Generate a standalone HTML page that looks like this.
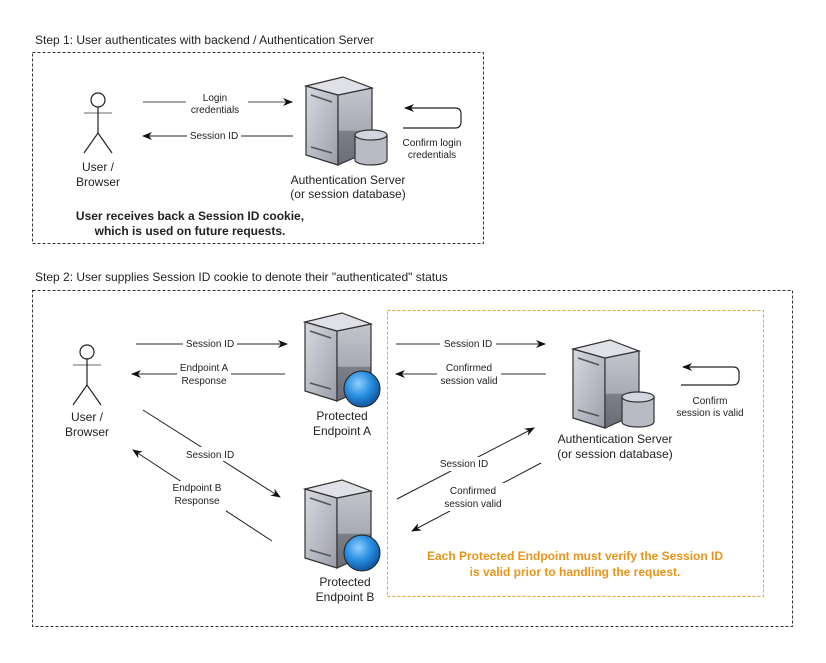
<!DOCTYPE html>
<html><head><style>
html,body{margin:0;padding:0;background:#fff;}
svg{display:block;}
text{font-family:"Liberation Sans",sans-serif;font-size:11px;fill:#222;}
.s{font-size:10px;}
.m{font-size:12px;}
.b{font-weight:bold;font-size:12px;}
</style></head><body>
<svg width="826" height="663" viewBox="0 0 826 663" xmlns="http://www.w3.org/2000/svg">
<defs>
<linearGradient id="fr" x1="0" y1="0" x2="1" y2="1"><stop offset="0" stop-color="#d8d9e0"/><stop offset="0.6" stop-color="#b4b6c0"/><stop offset="1" stop-color="#9a9ca8"/></linearGradient>
<linearGradient id="sd" x1="0" y1="0" x2="0" y2="1"><stop offset="0" stop-color="#c4c6ce"/><stop offset="0.55" stop-color="#a8aab4"/><stop offset="0.56" stop-color="#7c7e88"/><stop offset="1" stop-color="#6a6c76"/></linearGradient>
<radialGradient id="gl" cx="0.4" cy="0.35" r="0.7"><stop offset="0" stop-color="#8fd0ff"/><stop offset="0.5" stop-color="#2b8fe0"/><stop offset="1" stop-color="#0a4f9a"/></radialGradient>
<g id="srv">
<polygon points="0,9 32,18 32,88 0,78" fill="url(#fr)" stroke="#333" stroke-width="1.2"/>
<polygon points="32,18 66,11 66,73 32,88" fill="url(#sd)" stroke="#333" stroke-width="1.2"/>
<polygon points="0,9 37,0 66,11 32,18" fill="#e0e1e6" stroke="#333" stroke-width="1.2"/>
<line x1="5" y1="18" x2="26" y2="25" stroke="#555" stroke-width="1.5"/>
<line x1="5" y1="70" x2="26" y2="76" stroke="#555" stroke-width="1.5"/>
</g>
<g id="cyl">
<path d="M0,5 L0,30 A16,5 0 0 0 32,30 L32,5" fill="#b8bac4" stroke="#333" stroke-width="1.2"/>
<ellipse cx="16" cy="5" rx="16" ry="5" fill="#d4d6dd" stroke="#333" stroke-width="1.2"/>
</g>
<g id="man" stroke="#222" stroke-width="1.2" fill="none">
<circle cx="0" cy="0" r="7" fill="#fff"/>
<line x1="-14" y1="13" x2="14" y2="13" stroke="#888"/>
<line x1="0" y1="7" x2="0" y2="33"/>
<polyline points="-14,53 0,33 14,53"/>
</g>
<marker id="ar" markerWidth="10" markerHeight="8" refX="9" refY="4" orient="auto" markerUnits="userSpaceOnUse"><path d="M0,0 L10,4 L0,8 L3,4 z" fill="#111"/></marker>
</defs>

<text x="35" y="44" class="m">Step 1: User authenticates with backend / Authentication Server</text>
<rect x="32.5" y="52.5" width="451" height="191" fill="none" stroke="#333" stroke-dasharray="3,2"/>
<use href="#man" x="98" y="100"/>
<text x="98" y="171" class="m" text-anchor="middle">User /</text>
<text x="98" y="186" class="m" text-anchor="middle">Browser</text>

<line x1="143" y1="102" x2="292" y2="102" stroke="#888" stroke-width="1.5" marker-end="url(#ar)"/>
<rect x="186" y="92" width="62" height="22" fill="#fff"/>
<text x="215" y="101" class="s" text-anchor="middle">Login</text>
<text x="215" y="113" class="s" text-anchor="middle">credentials</text>
<line x1="293" y1="136" x2="143" y2="136" stroke="#222" stroke-width="1" marker-end="url(#ar)"/>
<rect x="187" y="130" width="54" height="12" fill="#fff"/>
<text x="214" y="139" class="s" text-anchor="middle">Session ID</text>

<use href="#srv" x="306" y="77"/>
<use href="#cyl" x="355" y="130"/>
<text x="348" y="184" class="m" text-anchor="middle">Authentication Server</text>
<text x="348" y="198" class="m" text-anchor="middle">(or session database)</text>
<path d="M403,128 L455,128 Q461,128 461,122 L461,114 Q461,108 455,108 L405,108" fill="none" stroke="#222" stroke-width="1.2" marker-end="url(#ar)"/>
<text x="432" y="146" class="s" text-anchor="middle">Confirm login</text>
<text x="432" y="158" class="s" text-anchor="middle">credentials</text>
<text x="190" y="220" class="b" text-anchor="middle">User receives back a Session ID cookie,</text>
<text x="190" y="235" class="b" text-anchor="middle">which is used on future requests.</text>

<text x="35" y="281" class="m">Step 2: User supplies Session ID cookie to denote their "authenticated" status</text>
<rect x="32.5" y="290.5" width="760" height="336" fill="none" stroke="#333" stroke-dasharray="3,2"/>
<rect x="387.5" y="310.5" width="376" height="286" fill="none" stroke="#e8a33a" stroke-dasharray="3,2"/>

<use href="#man" x="87" y="352"/>
<text x="87" y="421" class="m" text-anchor="middle">User /</text>
<text x="87" y="436" class="m" text-anchor="middle">Browser</text>

<line x1="136" y1="344" x2="287" y2="344" stroke="#222" marker-end="url(#ar)"/>
<rect x="183" y="338" width="54" height="12" fill="#fff"/>
<text x="210" y="347" class="s" text-anchor="middle">Session ID</text>
<line x1="285" y1="374" x2="132" y2="374" stroke="#777" stroke-width="1.5" marker-end="url(#ar)"/>
<rect x="177" y="362" width="54" height="24" fill="#fff"/>
<text x="204" y="371" class="s" text-anchor="middle">Endpoint A</text>
<text x="204" y="384" class="s" text-anchor="middle">Response</text>

<line x1="143" y1="410" x2="280" y2="497" stroke="#222" marker-end="url(#ar)"/>
<rect x="182" y="447" width="56" height="14" fill="#fff"/>
<text x="210" y="458" class="s" text-anchor="middle">Session ID</text>
<line x1="272" y1="541" x2="133" y2="450" stroke="#222" marker-end="url(#ar)"/>
<rect x="170" y="481" width="56" height="30" fill="#fff"/>
<text x="197" y="491" class="s" text-anchor="middle">Endpoint B</text>
<text x="197" y="504" class="s" text-anchor="middle">Response</text>

<use href="#srv" x="305" y="313"/>
<circle cx="362" cy="389" r="18" fill="url(#gl)" stroke="#222" stroke-width="1"/>
<text x="342" y="420" class="m" text-anchor="middle">Protected</text>
<text x="342" y="435" class="m" text-anchor="middle">Endpoint A</text>
<use href="#srv" x="305" y="480"/>
<circle cx="362" cy="553" r="18" fill="url(#gl)" stroke="#222" stroke-width="1"/>
<text x="345" y="586" class="m" text-anchor="middle">Protected</text>
<text x="345" y="601" class="m" text-anchor="middle">Endpoint B</text>

<line x1="396" y1="344" x2="545" y2="344" stroke="#555" stroke-width="1.2" marker-end="url(#ar)"/>
<rect x="440" y="337" width="56" height="13" fill="#fff"/>
<text x="468" y="347" class="s" text-anchor="middle">Session ID</text>
<line x1="546" y1="374" x2="396" y2="374" stroke="#777" stroke-width="1.5" marker-end="url(#ar)"/>
<rect x="437" y="361" width="64" height="26" fill="#fff"/>
<text x="469" y="371" class="s" text-anchor="middle">Confirmed</text>
<text x="469" y="384" class="s" text-anchor="middle">session valid</text>

<use href="#srv" x="573" y="340"/>
<use href="#cyl" x="622" y="392"/>
<text x="615" y="443" class="m" text-anchor="middle">Authentication Server</text>
<text x="615" y="458" class="m" text-anchor="middle">(or session database)</text>
<path d="M681,385 L733,385 Q739,385 739,379 L739,373 Q739,367 733,367 L683,367" fill="none" stroke="#222" stroke-width="1.2" marker-end="url(#ar)"/>
<text x="710" y="404" class="s" text-anchor="middle">Confirm</text>
<text x="710" y="416" class="s" text-anchor="middle">session is valid</text>

<line x1="397" y1="499" x2="534" y2="428" stroke="#222" marker-end="url(#ar)"/>
<rect x="436" y="457" width="56" height="14" fill="#fff"/>
<text x="464" y="467" class="s" text-anchor="middle">Session ID</text>
<line x1="541" y1="463" x2="412" y2="531" stroke="#222" marker-end="url(#ar)"/>
<rect x="440" y="483" width="66" height="28" fill="#fff"/>
<text x="473" y="494" class="s" text-anchor="middle">Confirmed</text>
<text x="473" y="507" class="s" text-anchor="middle">session valid</text>

<text x="575" y="560" class="b" text-anchor="middle" style="fill:#e8941a">Each Protected Endpoint must verify the Session ID</text>
<text x="575" y="576" class="b" text-anchor="middle" style="fill:#e8941a">is valid prior to handling the request.</text>
</svg>
</body></html>
